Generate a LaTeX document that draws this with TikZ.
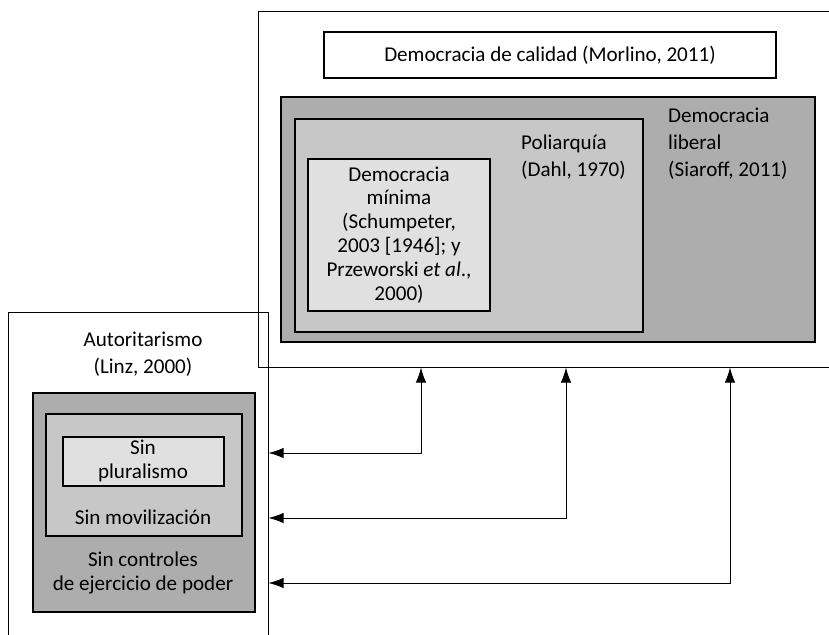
\documentclass[tikz,border=0pt]{standalone}
\usepackage{fontspec}
\setmainfont{Carlito}
\usetikzlibrary{fit,arrows.meta}

\begin{document}
\begin{tikzpicture}[x=0.03cm,y=-0.03cm,
   every node/.style={font=\fontsize{18}{20.4}\selectfont},
   caja/.style={draw,line width=1pt,inner sep=0pt},
   marco/.style={draw,line width=0.8pt,inner sep=0pt},
   txt/.style={inner sep=0pt,align=center},
   ancho/.style={font=\fontsize{18}{23}\selectfont},
   flecha/.style={{Latex[length=13pt,width=9pt]}-{Latex[length=13pt,width=9pt]},line width=0.8pt}]
   \useasboundingbox (0,0) rectangle (829,634);
   \clip (0,0) rectangle (829,634);
   % democracia
   \node[marco,fit={(258,11) (900,367)}] (dem) {};
   \node[caja,fit={(324,32) (776,78)}] (cal) {};
   \node[txt] (caltxt) at (cal.center) {Democracia de calidad (Morlino, 2011)};
   \node[caja,fill=black!32,fit={(281,97) (815,342)}] (lib) {};
   \node[caja,fill=black!22,fit={(295,119) (643,332)}] (pol) {};
   \node[caja,fill=black!12,fit={(308,159) (490,311)}] (min) {};
   \node[txt,ancho,anchor=west,align=left] (libtxt) at (668,144) {Democracia\\liberal\\(Siaroff, 2011)};
   \node[txt,ancho,anchor=west,align=left] (poltxt) at (521,157) {Poliarquía\\(Dahl, 1970)};
   \node[txt] (mintxt) at (399,235) {Democracia\\mínima\\(Schumpeter,\\2003 [1946]; y\\Przeworski \textit{et al}.,\\2000)};
   % autoritarismo
   \node[marco,fit={(8,312) (268,700)}] (aut) {};
   \node[txt,ancho] (auttxt) at (143,354) {Autoritarismo\\(Linz, 2000)};
   \node[caja,fill=black!32,fit={(33,393) (255,612)}] (con) {};
   \node[caja,fill=black!22,fit={(46,414) (242,536)}] (mov) {};
   \node[caja,fill=black!12,fit={(63,437) (224,486)}] (plu) {};
   \node[txt] (plutxt) at (143,461) {Sin\\pluralismo};
   \node[txt] (movtxt) at (143,517) {Sin movilización};
   \node[txt] (contxt) at (143,573) {Sin controles\\de ejercicio de poder};
   % flechas
   \draw[flecha] (aut.east |- 0,453) -| (dem.south -| 421,0);
   \draw[flecha] (aut.east |- 0,518) -| (dem.south -| 566,0);
   \draw[flecha] (aut.east |- 0,583) -| (dem.south -| 730,0);
\end{tikzpicture}
\end{document}
